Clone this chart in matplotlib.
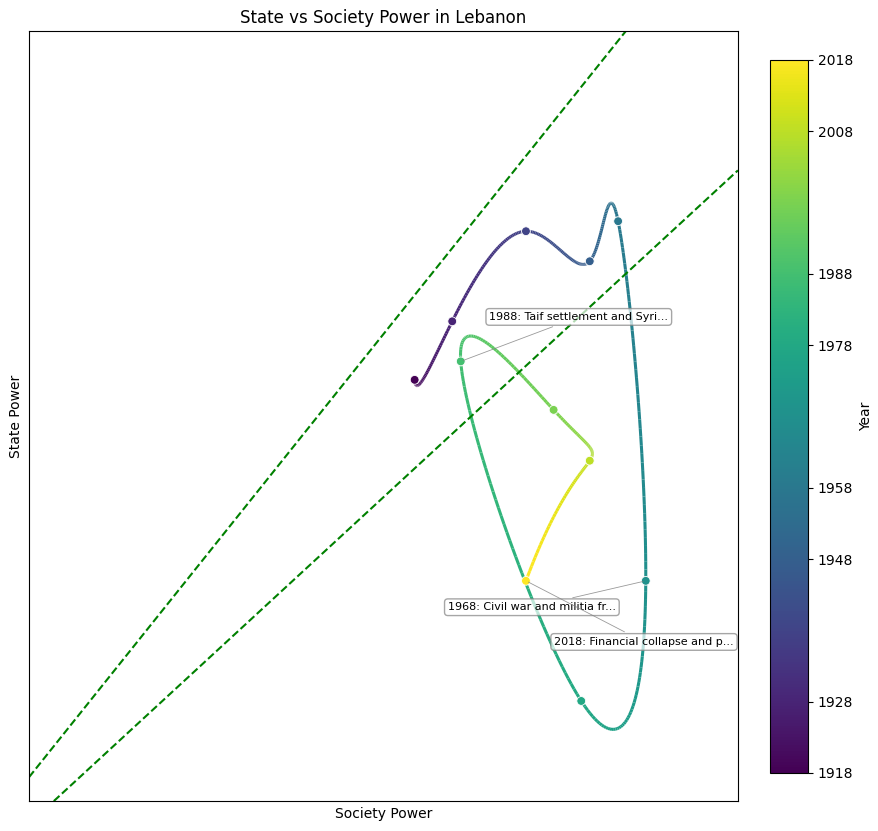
import numpy as np
import matplotlib
matplotlib.use("Agg")
import matplotlib.pyplot as plt
from matplotlib.collections import LineCollection

# decade snapshots of Lebanon (society power, state power)
years = np.array([1918, 1928, 1938, 1948, 1958, 1968, 1978, 1988, 1998, 2008, 2018])
society = np.array([5.44, 5.97, 7.01, 7.91, 8.31, 8.70, 7.79, 6.09, 7.40, 7.91, 7.01])
state = np.array([5.47, 6.23, 7.40, 7.01, 7.53, 2.86, 1.30, 5.71, 5.08, 4.42, 2.86])

notes = {
    1968: "1968: Civil war and militia fr...",
    1988: "1988: Taif settlement and Syri...",
    2018: "2018: Financial collapse and p...",
}
note_offsets = {1968: (-82, -19), 1988: (85, 32), 2018: (85, -44)}

cbar_ticks = [1918, 1928, 1948, 1958, 1978, 1988, 2008, 2018]

# corridor boundaries (two points each)
upper_line = ((0.0, 0.31), (8.42, 10.0))
lower_line = ((0.35, 0.0), (10.0, 8.19))


def spline(t, y, tt):
    # cubic spline, not-a-knot ends, uniform knots
    n = len(t)
    h = t[1] - t[0]
    A = np.zeros((n, n))
    b = np.zeros(n)
    A[0, :3] = [1, -2, 1]
    A[-1, -3:] = [1, -2, 1]
    for i in range(1, n - 1):
        A[i, i - 1:i + 2] = [1, 4, 1]
        b[i] = 6 * (y[i + 1] - 2 * y[i] + y[i - 1]) / h**2
    M = np.linalg.solve(A, b)
    idx = np.clip(np.searchsorted(t, tt) - 1, 0, n - 2)
    t0, t1 = t[idx], t[idx + 1]
    return (M[idx] * (t1 - tt)**3 / (6 * h) + M[idx + 1] * (tt - t0)**3 / (6 * h)
            + (y[idx] / h - M[idx] * h / 6) * (t1 - tt)
            + (y[idx + 1] / h - M[idx + 1] * h / 6) * (tt - t0))


fig = plt.figure(figsize=(8.79, 8.31), dpi=100)
ax = fig.add_axes([0.033, 0.036, 0.8065, 0.9267])
cax = fig.add_axes([0.876, 0.0698, 0.0432, 0.858])

tt = np.linspace(years[0], years[-1], 500)
xs = spline(years.astype(float), society, tt)
ys = spline(years.astype(float), state, tt)
pts = np.column_stack([xs, ys]).reshape(-1, 1, 2)
segs = np.concatenate([pts[:-1], pts[1:]], axis=1)
norm = plt.Normalize(years.min(), years.max())
lc = LineCollection(segs, cmap="viridis", norm=norm, linewidth=2.2)
lc.set_array((tt[:-1] + tt[1:]) / 2)
ax.add_collection(lc)

ax.scatter(society, state, c=years, cmap="viridis", norm=norm, s=40,
           edgecolors="white", linewidths=0.6, zorder=3)

ax.axline(*upper_line, color="green", linestyle="--", linewidth=1.5)
ax.axline(*lower_line, color="green", linestyle="--", linewidth=1.5)

for yr, txt in notes.items():
    i = list(years).index(yr)
    ax.annotate(txt, (society[i], state[i]), xytext=note_offsets[yr],
                textcoords="offset points", ha="center", va="center", fontsize=8,
                bbox=dict(boxstyle="round,pad=0.3", fc="white", ec="gray", alpha=0.7),
                arrowprops=dict(arrowstyle="-", color="gray", lw=0.6, alpha=0.8),
                zorder=4)

ax.set_xlim(0, 10)
ax.set_ylim(0, 10)
ax.set_xticks([])
ax.set_yticks([])
ax.set_xlabel("Society Power")
ax.set_ylabel("State Power")
ax.set_title("State vs Society Power in Lebanon")

cb = fig.colorbar(lc, cax=cax)
cb.set_ticks(cbar_ticks)
cb.set_label("Year")

fig.savefig("out.png", dpi=100)
